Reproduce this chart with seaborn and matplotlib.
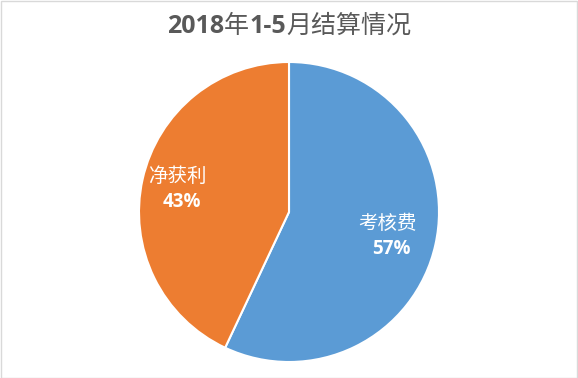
import numpy as np
import matplotlib
matplotlib.use("Agg")
import matplotlib.pyplot as plt
import seaborn as sns
from matplotlib.offsetbox import TextArea, HPacker, AnchoredOffsetbox
from matplotlib.patches import Rectangle

categories = ["考核费", "净获利"]
shares = [57, 43]
colours = ["#5B9BD5", "#ED7D31"]
title_parts = [("2018", "bold"), ("年", "normal"), ("1-5", "bold"), ("月结算情况", "normal")]

sns.set_style("white")
plt.rcParams["font.family"] = ["Noto Sans CJK SC", "DejaVu Sans"]

fig = plt.figure(figsize=(5.78, 3.78), dpi=100)
ax = fig.add_axes([139 / 578, 16 / 378, 300 / 578, 300 / 378])

wedges, _ = ax.pie(shares, colors=colours, startangle=90, counterclock=False,
                   radius=1.0, wedgeprops=dict(edgecolor="white", linewidth=1.5))
ax.set_aspect("equal")
ax.set_xlim(-1, 1)
ax.set_ylim(-1, 1)
ax.axis("off")

# label positions from the wedge middles
for w, name, val, dist in zip(wedges, categories, shares, (0.67, 0.76)):
    ang = np.deg2rad((w.theta1 + w.theta2) / 2)
    x, y = dist * np.cos(ang), dist * np.sin(ang)
    ax.text(x, y + 0.07, name, ha="center", va="center", color="white",
            fontsize=14)
    ax.text(x + 0.03, y - 0.10, f"{val}%", ha="center", va="center",
            color="white", fontsize=13.5, fontweight="bold",
            family=["Open Sans", "DejaVu Sans"])

# title with bold digits and regular CJK
boxes = []
for txt, wt in title_parts:
    fam = ["Open Sans", "DejaVu Sans"] if wt == "bold" else ["Noto Sans CJK SC", "DejaVu Sans"]
    boxes.append(TextArea(txt, textprops=dict(fontsize=18, fontweight=wt,
                                              color="#595959", family=fam)))
pack = HPacker(children=boxes, align="baseline", pad=0, sep=0)
anchored = AnchoredOffsetbox(loc="center", child=pack, frameon=False,
                             bbox_to_anchor=(0.5, 1 - 26 / 378),
                             bbox_transform=fig.transFigure, pad=0, borderpad=0)
fig.add_artist(anchored)

fig.add_artist(Rectangle((0.001, 0.001), 0.997, 0.997, transform=fig.transFigure,
                         fill=False, edgecolor="#D9D9D9", linewidth=1))

fig.savefig("out.png", dpi=100)
plt.close(fig)
